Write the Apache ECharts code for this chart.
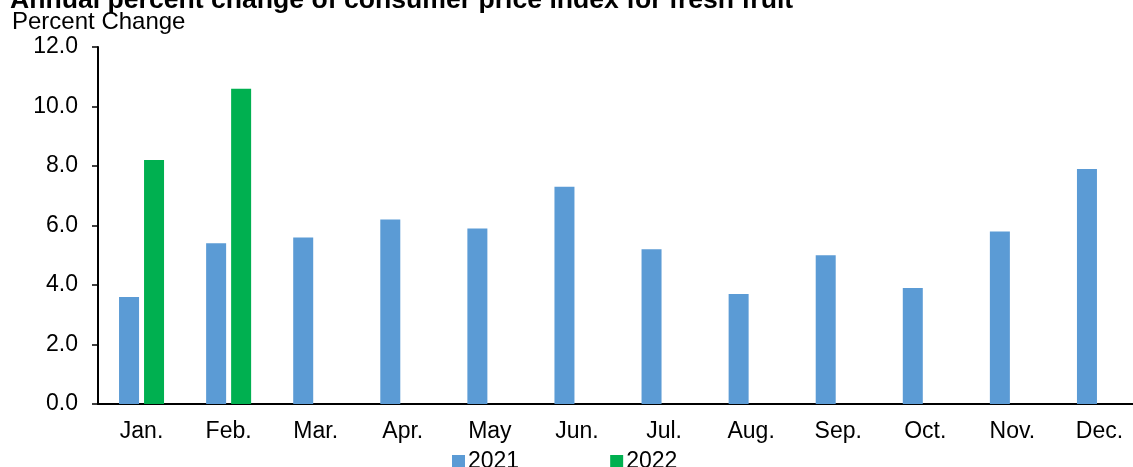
<!DOCTYPE html>
<html>
<head>
<meta charset="utf-8">
<script src="https://cdn.jsdelivr.net/npm/echarts@6/dist/echarts.min.js"></script>
<style>
  html, body { margin: 0; padding: 0; background: #fff; overflow: hidden; }
  /* the source image crops the plot's right end, so the canvas runs past the window */
  #chart { width: 1143px; height: 467px; }
</style>
</head>
<body>
<div id="chart"></div>
<script>
var months = ['Jan.', 'Feb.', 'Mar.', 'Apr.', 'May', 'Jun.', 'Jul.', 'Aug.', 'Sep.', 'Oct.', 'Nov.', 'Dec.'];
var values2021 = [3.6, 5.4, 5.6, 6.2, 5.9, 7.3, 5.2, 3.7, 5.0, 3.9, 5.8, 7.9];
var values2022 = [8.2, 10.6, null, null, null, null, null, null, null, null, null, null];
var seriesNames = ['2021', '2022'];

var font = 'Liberation Sans, Arial, sans-serif';

var chart = echarts.init(document.getElementById('chart'));
chart.setOption({
    animation: false,
    title: {
        text: 'Annual percent change of consumer price index for fresh fruit',
        left: 5,
        top: -18,
        textStyle: { fontFamily: font, fontSize: 26.6, fontWeight: 'bold', color: '#000' }
    },
    graphic: [{
        type: 'text',
        left: 12,
        top: 10,
        style: { text: 'Percent Change', font: '24px ' + font, fill: '#000' }
    }],
    legend: {
        data: seriesNames,
        left: 447,
        top: 445,
        icon: 'rect',
        itemWidth: 13,
        itemHeight: 13,
        itemGap: 91,
        textStyle: { fontFamily: font, fontSize: 23, color: '#000', padding: [0, 0, 0, -2] }
    },
    grid: { left: 98, right: 0, top: 47, bottom: 63 },
    xAxis: {
        type: 'category',
        data: months,
        axisLine: { lineStyle: { color: '#000', width: 2 } },
        axisTick: { show: false },
        axisLabel: { fontFamily: font, fontSize: 23, color: '#000', margin: 16 }
    },
    yAxis: {
        type: 'value',
        min: 0,
        max: 12,
        interval: 2,
        axisLine: { show: true, lineStyle: { color: '#000', width: 2 } },
        axisTick: { show: true, length: 6, lineStyle: { color: '#000', width: 1.5 } },
        splitLine: { show: false },
        axisLabel: {
            fontFamily: font, fontSize: 23, color: '#000', margin: 20,
            formatter: function (v) { return v.toFixed(1); }
        }
    },
    series: [{
        name: seriesNames[0],
        type: 'bar',
        data: values2021,
        barWidth: 20,
        barGap: '25%',
        itemStyle: { color: '#5B9BD5' }
    }, {
        name: seriesNames[1],
        type: 'bar',
        data: values2022,
        barWidth: 20,
        itemStyle: { color: '#00B050' }
    }]
});
</script>
</body>
</html>
